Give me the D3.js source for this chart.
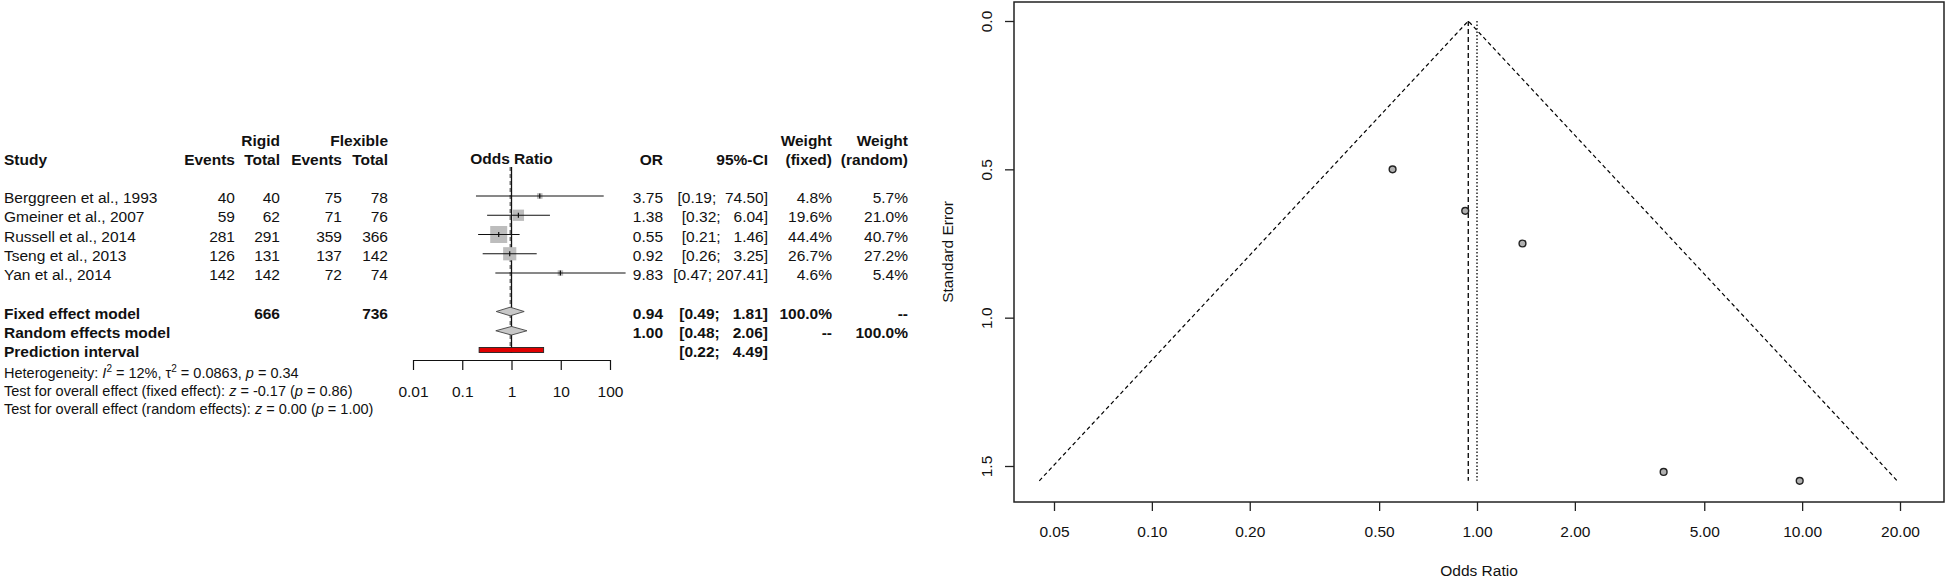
<!DOCTYPE html>
<html>
<head>
<meta charset="utf-8">
<script src="https://cdn.jsdelivr.net/npm/d3@7"></script>
<style>
body { margin: 0; background: #fff; }
svg { display: block; font-family: "Liberation Sans", Arial, sans-serif; }
text { white-space: pre; fill: #111; }
</style>
</head>
<body>
<svg id="chart" width="1946" height="578"></svg>
<script>
// study data
var studies = ["Berggreen et al., 1993", "Gmeiner et al., 2007", "Russell et al., 2014", "Tseng et al., 2013", "Yan et al., 2014"];
var eventsRigid = [40, 59, 281, 126, 142];
var totalRigid = [40, 62, 291, 131, 142];
var eventsFlex = [75, 71, 359, 137, 72];
var totalFlex = [78, 76, 366, 142, 74];
var oddsRatio = [3.75, 1.38, 0.55, 0.92, 9.83];
var ciLower = [0.19, 0.32, 0.21, 0.26, 0.47];
var ciUpper = [74.50, 6.04, 1.46, 3.25, 207.41];
var weightFixed = [4.8, 19.6, 44.4, 26.7, 4.6];
var weightRandom = [5.7, 21.0, 40.7, 27.2, 5.4];
// standard errors
var stdError = [1.52, 0.75, 0.50, 0.64, 1.55];

// pooled rows
var pooledLabels = ["Fixed effect model", "Random effects model", "Prediction interval"];
var pooledOR = [0.94, 1.00, null];
var pooledLower = [0.49, 0.48, 0.22];
var pooledUpper = [1.81, 2.06, 4.49];
var pooledWFixed = ["100.0%", "--", ""];
var pooledWRandom = ["--", "100.0%", ""];
var pooledTotals = [666, 736];

// axis ticks
var forestTicks = [0.01, 0.1, 1, 10, 100];
var forestTickLabels = ["0.01", "0.1", "1", "10", "100"];
var funnelTicksX = [0.05, 0.10, 0.20, 0.50, 1.00, 2.00, 5.00, 10.00, 20.00];
var funnelTicksY = [0.0, 0.5, 1.0, 1.5];

var svg = d3.select("#chart");
var FS = 15.5;

function txt(x, y, s, anchor, bold, size) {
  return svg.append("text")
    .attr("x", x).attr("y", y).attr("dy", "0.36em")
    .attr("xml:space", "preserve")
    .attr("text-anchor", anchor || "start")
    .attr("font-weight", bold ? "bold" : "normal")
    .attr("font-size", size || FS)
    .text(s);
}

function fmtCI(lo, hi) {
  var h = hi.toFixed(2);
  while (h.length < 6) h = " " + h;
  return "[" + lo.toFixed(2) + "; " + h + "]";
}

// ---------- forest plot ----------
var col = { study: 4, evR: 235, totR: 280, evF: 342, totF: 388, or: 663, ci: 768, wf: 832, wr: 908 };
var rowY = d3.scaleLinear().domain([0, 8]).range([196, 350]);
var xF = d3.scaleLog().domain([0.01, 100]).range([413, 610]);

// headers
txt(col.totR, 140, "Rigid", "end", true);
txt(col.totF, 140, "Flexible", "end", true);
txt(col.wf, 140, "Weight", "end", true);
txt(col.wr, 140, "Weight", "end", true);
txt(col.study, 159, "Study", "start", true);
txt(col.evR, 159, "Events", "end", true);
txt(col.totR, 159, "Total", "end", true);
txt(col.evF, 159, "Events", "end", true);
txt(col.totF, 159, "Total", "end", true);
txt(xF(1), 158, "Odds Ratio", "middle", true);
txt(col.or, 159, "OR", "end", true);
txt(col.ci, 159, "95%-CI", "end", true);
txt(col.wf, 159, "(fixed)", "end", true);
txt(col.wr, 159, "(random)", "end", true);

// study rows
studies.forEach(function(s, i) {
  var y = rowY(i) + 1.5;
  txt(col.study, y, s);
  txt(col.evR, y, String(eventsRigid[i]), "end");
  txt(col.totR, y, String(totalRigid[i]), "end");
  txt(col.evF, y, String(eventsFlex[i]), "end");
  txt(col.totF, y, String(totalFlex[i]), "end");
  txt(col.or, y, oddsRatio[i].toFixed(2), "end");
  txt(col.ci, y, fmtCI(ciLower[i], ciUpper[i]), "end");
  txt(col.wf, y, weightFixed[i].toFixed(1) + "%", "end");
  txt(col.wr, y, weightRandom[i].toFixed(1) + "%", "end");
});

// pooled rows
pooledLabels.forEach(function(s, j) {
  var y = rowY(6 + j) + 1.5;
  txt(col.study, y, s, "start", true);
  if (pooledOR[j] !== null) txt(col.or, y, pooledOR[j].toFixed(2), "end", true);
  txt(col.ci, y, fmtCI(pooledLower[j], pooledUpper[j]), "end", true);
  txt(col.wf, y, pooledWFixed[j], "end", true);
  txt(col.wr, y, pooledWRandom[j], "end", true);
});
txt(col.totR, rowY(6) + 1.5, String(pooledTotals[0]), "end", true);
txt(col.totF, rowY(6) + 1.5, String(pooledTotals[1]), "end", true);

// heterogeneity / tests
var FF = 14.5;
var het = svg.append("text").attr("x", col.study).attr("y", 373).attr("dy", "0.36em").attr("font-size", FF).attr("xml:space", "preserve");
het.append("tspan").text("Heterogeneity: ");
het.append("tspan").attr("font-style", "italic").text("I");
het.append("tspan").attr("font-size", 10).attr("dy", -6).text("2");
het.append("tspan").attr("dy", 6).text(" = 12%, \u03c4");
het.append("tspan").attr("font-size", 10).attr("dy", -6).text("2");
het.append("tspan").attr("dy", 6).text(" = 0.0863, ");
het.append("tspan").attr("font-style", "italic").text("p");
het.append("tspan").text(" = 0.34");

function testLine(y, label, z, p) {
  var t = svg.append("text").attr("x", col.study).attr("y", y).attr("dy", "0.36em").attr("font-size", FF).attr("xml:space", "preserve");
  t.append("tspan").text(label);
  t.append("tspan").attr("font-style", "italic").text("z");
  t.append("tspan").text(" = " + z + " (");
  t.append("tspan").attr("font-style", "italic").text("p");
  t.append("tspan").text(" = " + p + ")");
}
testLine(391, "Test for overall effect (fixed effect): ", "-0.17", "0.86");
testLine(409, "Test for overall effect (random effects): ", "0.00", "1.00");

// reference lines
var refTop = 167, refBot = 353;
svg.append("line").attr("x1", xF(1)).attr("x2", xF(1)).attr("y1", refTop).attr("y2", refBot)
  .attr("stroke", "#111").attr("stroke-width", 1.3);
svg.append("line").attr("x1", xF(pooledOR[0])).attr("x2", xF(pooledOR[0])).attr("y1", refTop).attr("y2", refBot)
  .attr("stroke", "#333").attr("stroke-width", 1).attr("stroke-dasharray", "4,3");

// CI lines, squares and ticks
var sq = d3.scaleSqrt().domain([0, 100]).range([0, 25.5]);
studies.forEach(function(s, i) {
  var y = rowY(i);
  var w = sq(weightFixed[i]);
  svg.append("rect").attr("x", xF(oddsRatio[i]) - w / 2).attr("y", y - w / 2)
    .attr("width", w).attr("height", w).attr("fill", "#bdbdbd");
  svg.append("line").attr("x1", xF(ciLower[i])).attr("x2", xF(ciUpper[i])).attr("y1", y).attr("y2", y)
    .attr("stroke", "#111").attr("stroke-width", 1);
  svg.append("line").attr("x1", xF(oddsRatio[i])).attr("x2", xF(oddsRatio[i])).attr("y1", y - 2.5).attr("y2", y + 2.5)
    .attr("stroke", "#111").attr("stroke-width", 1.2);
});

// diamonds
[0, 1].forEach(function(j) {
  var y = rowY(6 + j), h = 4.3;
  var pts = [[xF(pooledLower[j]), y], [xF(pooledOR[j]), y - h], [xF(pooledUpper[j]), y], [xF(pooledOR[j]), y + h]];
  svg.append("polygon").attr("points", pts.map(function(p) { return p.join(","); }).join(" "))
    .attr("fill", "#c8c8c8").attr("stroke", "#444").attr("stroke-width", 0.9);
});

// prediction interval
svg.append("rect").attr("x", xF(pooledLower[2])).attr("y", rowY(8) - 2.5)
  .attr("width", xF(pooledUpper[2]) - xF(pooledLower[2])).attr("height", 5)
  .attr("fill", "#e00000").attr("stroke", "#222").attr("stroke-width", 0.9);

// forest axis
var axF = svg.append("g").attr("transform", "translate(0,360)")
  .call(d3.axisBottom(xF).tickValues(forestTicks).tickFormat(function(d, i) { return forestTickLabels[i]; })
    .tickSize(10).tickSizeOuter(0));
axF.select(".domain").attr("stroke", "#111").attr("stroke-width", 1.2);
axF.selectAll(".tick line").attr("stroke", "#111").attr("stroke-width", 1.2);
axF.selectAll(".tick text").attr("font-size", FS).attr("font-family", null).attr("y", 26).attr("fill", "#111");

// ---------- funnel plot ----------
var frame = { left: 1014, right: 1944, top: 2, bottom: 502 };
var xP = d3.scaleLog().domain([0.05, 20]).range([1054, 1900]);
var yP = d3.scaleLinear().domain([0, 1.5]).range([21, 466]);
var seMax = d3.max(stdError);
var fixedOR = pooledOR[0], randomOR = pooledOR[1];

// pseudo confidence region
var funnelLine = d3.line().x(function(d) { return xP(d[0]); }).y(function(d) { return yP(d[1]); });
svg.append("path")
  .attr("d", funnelLine([[fixedOR * Math.exp(-1.96 * seMax), seMax], [fixedOR, 0], [fixedOR * Math.exp(1.96 * seMax), seMax]]))
  .attr("fill", "none").attr("stroke", "#000").attr("stroke-width", 1.2).attr("stroke-dasharray", "4,3");
svg.append("line").attr("x1", xP(fixedOR)).attr("x2", xP(fixedOR)).attr("y1", yP(0)).attr("y2", yP(seMax))
  .attr("stroke", "#000").attr("stroke-width", 1.3).attr("stroke-dasharray", "5,3");
svg.append("line").attr("x1", xP(randomOR)).attr("x2", xP(randomOR)).attr("y1", yP(0)).attr("y2", yP(seMax))
  .attr("stroke", "#000").attr("stroke-width", 1.3).attr("stroke-dasharray", "1.5,2");

// study points
svg.selectAll("circle.pt").data(oddsRatio).enter().append("circle").attr("class", "pt")
  .attr("cx", function(d) { return xP(d); })
  .attr("cy", function(d, i) { return yP(stdError[i]); })
  .attr("r", 3.4).attr("fill", "#b0b0b0").attr("stroke", "#222").attr("stroke-width", 1.4);

// frame
svg.append("rect").attr("x", frame.left).attr("y", frame.top)
  .attr("width", frame.right - frame.left).attr("height", frame.bottom - frame.top)
  .attr("fill", "none").attr("stroke", "#222").attr("stroke-width", 1.5);

// x axis
var axX = svg.append("g").attr("transform", "translate(0," + frame.bottom + ")")
  .call(d3.axisBottom(xP).tickValues(funnelTicksX).tickFormat(d3.format(".2f")).tickSize(9).tickSizeOuter(0));
axX.select(".domain").remove();
axX.selectAll(".tick line").attr("stroke", "#222").attr("stroke-width", 1.3);
axX.selectAll(".tick text").attr("font-size", FS).attr("font-family", null).attr("y", 24).attr("fill", "#111");

// y axis
var axY = svg.append("g").attr("transform", "translate(" + frame.left + ",0)")
  .call(d3.axisLeft(yP).tickValues(funnelTicksY).tickFormat(d3.format(".1f")).tickSize(9).tickSizeOuter(0));
axY.select(".domain").remove();
axY.selectAll(".tick line").attr("stroke", "#222").attr("stroke-width", 1.3);
axY.selectAll(".tick text").attr("font-size", FS).attr("font-family", null).attr("fill", "#111")
  .attr("x", null).attr("dy", null)
  .attr("text-anchor", "middle")
  .attr("transform", "translate(-22,0) rotate(-90)");

// axis titles
txt((frame.left + frame.right) / 2, 570, "Odds Ratio", "middle");
svg.append("text").attr("transform", "translate(953," + ((frame.top + frame.bottom) / 2) + ") rotate(-90)")
  .attr("text-anchor", "middle").attr("font-size", FS).text("Standard Error");
</script>
</body>
</html>
